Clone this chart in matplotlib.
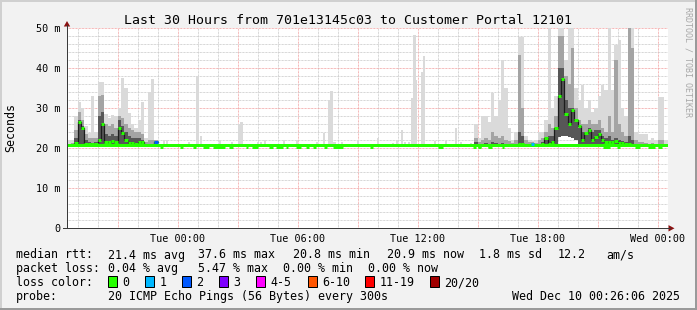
import numpy as np
import matplotlib
matplotlib.use("Agg")
import matplotlib.pyplot as plt
from matplotlib.patches import Rectangle, Polygon
from matplotlib.lines import Line2D

# ------------------------------------------------------------------ data
title = "Last 30 Hours from 701e13145c03 to Customer Portal 12101"
x_range = (-5.53, 24.52)                      # hours relative to Tue 00:00
x_tick_hours = [0, 6, 12, 18, 24]
x_tick_labels = ["Tue 00:00", "Tue 06:00", "Tue 12:00", "Tue 18:00", "Wed 00:00"]
y_ticks = [0, 10, 20, 30, 40, 50]
y_tick_labels = ["0", "10 m", "20 m", "30 m", "40 m", "50 m"]

baseline_median = 20.9      # ms
baseline_min = 20.8         # ms
dip_median = 20.45          # ms, short dips of the median
dip_start = [-0.9, 0.1, 0.75, 1.25, 1.75, 2.55, 3.4, 3.7, 4.55, 4.9, 5.4, 5.9, 6.4, 6.75,
             7.3, 7.75, 9.6, 13.0, 14.75, 15.0, 15.5, 16.2, 21.25, 21.95, 22.85, 23.5, 24.0]
dip_end = [-0.75, 0.25, 0.9, 1.55, 2.35, 2.75, 3.5, 4.0, 4.75, 5.25, 5.5, 6.15, 6.55, 6.9,
           7.45, 8.25, 9.75, 13.25, 14.9, 15.15, 15.7, 16.3, 21.6, 22.1, 23.1, 23.85, 24.2]

# isolated light-grey smoke spikes (max ping)
spike_t = [-0.75, -0.60, 0.50, 0.93, 1.10, 2.05, 2.65, 3.00, 3.12, 3.95, 4.10, 4.30, 5.25,
           5.90, 6.90, 7.25, 7.50, 7.62, 7.78, 8.15, 8.95, 9.40, 9.95, 10.70, 10.90, 11.15,
           11.30, 11.50, 11.65, 11.77, 11.83, 12.15, 12.25, 12.80, 13.35, 13.85, 14.10, 14.60]
spike_top = [22.2, 22.0, 21.6, 38.0, 23.0, 22.0, 21.6, 26.0, 26.6, 21.5, 21.6, 22.2, 22.2,
             22.0, 21.6, 23.8, 32.0, 34.3, 21.5, 21.5, 22.2, 21.2, 22.5, 21.4, 22.0, 24.5,
             21.6, 21.6, 32.6, 48.2, 37.0, 39.1, 43.1, 21.8, 21.8, 25.1, 21.6, 21.4]

# dense smoke samples (10 minute steps)
dense_t = [-5.50, -5.33, -5.17, -5.00, -4.83, -4.67, -4.50, -4.33, -4.17, -4.00, -3.83,
           -3.67, -3.50, -3.33, -3.17, -3.00, -2.83, -2.67, -2.50, -2.33, -2.17, -2.00,
           -1.83, -1.67, -1.50, -1.33, -1.17,
           14.83, 15.00, 15.17, 15.33, 15.50, 15.67, 15.83, 16.00, 16.17, 16.33, 16.50,
           16.67, 16.83, 17.00, 17.17, 17.33, 17.50, 17.67, 17.83,
           18.00, 18.17, 18.33, 18.50, 18.67, 18.83, 19.00, 19.17, 19.33, 19.50, 19.67,
           19.83, 20.00, 20.17, 20.33, 20.50, 20.67, 20.83, 21.00, 21.17, 21.33, 21.50,
           21.67, 21.83, 22.00, 22.17, 22.33, 22.50, 22.67, 22.83, 23.00, 23.17, 23.33,
           23.50, 23.67, 23.83, 24.00, 24.17, 24.33]
dense_top = [22.0, 22.0, 28.0, 31.6, 30.0, 25.5, 23.8, 33.0, 24.0, 36.5, 36.5,
             28.5, 27.5, 28.3, 28.0, 30.0, 37.6, 35.0, 28.8, 26.0, 25.0, 27.0,
             31.6, 22.5, 34.0, 37.2, 22.0,
             26.2, 22.5, 28.2, 28.2, 26.6, 33.7, 28.0, 32.0, 42.0, 35.0, 25.0,
             22.0, 24.0, 47.8, 47.8, 23.0, 22.0, 21.8, 22.0,
             24.0, 24.0, 27.0, 50.0, 30.0, 33.0, 50.0, 50.0, 42.0, 50.0, 50.0,
             35.0, 32.0, 35.7, 30.0, 32.0, 29.0, 30.0, 33.0, 35.7, 34.5, 50.0,
             34.5, 45.7, 47.0, 30.0, 28.0, 50.0, 50.0, 24.0, 23.5, 23.5, 23.5,
             22.0, 22.5, 22.0, 32.8, 32.8, 22.0]
dense_hi = [21.2, 21.3, 24.5, 29.0, 27.0, 23.5, 22.5, 22.5, 22.5, 33.0, 33.3,
            26.0, 25.5, 26.0, 25.0, 28.0, 27.5, 26.0, 25.0, 24.5, 24.0, 24.0,
            23.5, 21.5, 22.0, 22.0, 22.0,
            22.5, 21.5, 22.0, 22.5, 22.0, 24.0, 23.0, 22.5, 23.0, 22.0, 21.8,
            21.3, 22.0, 43.2, 30.0, 22.0, 21.5, 21.5, 21.3,
            22.0, 22.5, 24.0, 26.0, 25.0, 28.0, 48.0, 48.0, 38.0, 36.0, 45.0,
            30.0, 27.0, 26.0, 26.0, 27.0, 26.0, 26.0, 27.0, 25.0, 24.0, 28.0,
            24.0, 42.0, 26.0, 24.0, 23.0, 50.0, 45.0, 22.0, 21.5, 21.5, 21.3,
            21.2, 21.3, 21.2, 22.0, 22.0, 21.2]
dense_core = [21.0, 21.0, 22.5, 27.0, 25.5, 22.0, 21.5, 21.3, 21.5, 28.0, 29.0,
              23.5, 23.0, 23.5, 23.0, 27.0, 25.5, 24.0, 23.0, 22.5, 22.5, 22.5,
              22.0, 21.0, 21.2, 21.2, 21.5,
              21.5, 21.0, 21.2, 21.3, 21.0, 21.5, 21.3, 21.2, 21.3, 21.2, 21.0,
              21.0, 21.2, 24.0, 23.0, 21.2, 21.0, 21.0, 21.0,
              21.2, 21.5, 22.5, 23.0, 23.0, 25.0, 40.0, 40.0, 32.0, 30.0, 30.0,
              27.0, 25.0, 24.0, 24.0, 25.0, 24.0, 24.5, 24.5, 23.0, 22.5, 23.0,
              22.0, 22.5, 22.0, 21.8, 21.5, 23.0, 22.0, 21.0, 21.0, 21.0, 21.0,
              21.0, 21.0, 21.0, 21.2, 21.2, 21.0]
dense_lo = [20.8] * 27 + [20.8] * 19 + \
           [20.8, 20.8, 20.8, 20.8, 20.8, 20.8, 22.8, 23.0, 23.0, 22.8, 22.5,
            22.0, 20.8, 20.8, 20.8, 20.8, 20.8, 20.8, 20.8, 20.8, 20.8, 20.8,
            20.8, 20.8, 20.8, 20.8, 20.8, 20.8, 20.8, 20.8, 20.8, 20.8, 20.8,
            20.8, 20.8, 20.8, 20.8, 20.8, 20.8]
dense_med = [20.9, 20.9, 21.3, 26.6, 25.0, 21.2, 21.0, 21.0, 21.0, 22.0, 26.2,
             21.6, 21.6, 21.9, 21.6, 25.0, 23.8, 22.0, 21.4, 21.4, 21.2, 21.6,
             21.6, 20.9, 20.9, 20.9, 21.5,
             20.9, 20.7, 20.9, 20.9, 20.7, 20.9, 20.9, 20.9, 20.9, 20.9, 20.9,
             20.9, 20.9, 21.0, 21.0, 20.9, 20.9, 21.1, 20.9,
             20.9, 21.0, 22.5, 21.2, 21.5, 25.0, 33.0, 37.4, 28.7, 26.2, 29.7,
             27.0, 25.7, 22.0, 23.8, 24.7, 22.0, 22.8, 23.5, 22.0, 21.5, 21.6,
             21.5, 21.8, 21.4, 21.3, 21.0, 21.0, 20.9, 20.9, 20.9, 20.9, 20.9,
             20.9, 20.9, 20.9, 20.9, 20.9, 20.9]

# samples with packet loss (count of 20)
loss_t = [-1.17, 17.67]
loss_count = [2, 1]

loss_labels = ["0", "1", "2", "3", "4-5", "6-10", "11-19", "20/20"]
loss_colors = ["#26ff00", "#00b8ff", "#0059ff", "#7e00ff", "#ff00ff", "#ff5500", "#ff0000", "#a10000"]

stats_rtt = ["21.4 ms avg", "37.6 ms max", "20.8 ms min", "20.9 ms now", "1.8 ms sd", "12.2", "am/s"]
stats_loss = ["0.04 % avg", "5.47 % max", "0.00 % min", "0.00 % now"]
probe_text = "20 ICMP Echo Pings (56 Bytes) every 300s"
stamp_text = "Wed Dec 10 00:26:06 2025"

# ------------------------------------------------------------------ style
W, H = 697, 310
BG = "#f2f2f2"
MONO = "DejaVu Sans Mono"
STEP = 1 / 6
SPIKE_W = 1 / 8
C_TOP, C_HI, C_CORE = "#dadada", "#a4a4a4", "#575757"
GRID_MIN, GRID_MAJ = "#c8c8c8", "#f2a0a0"
AXIS_C, ARROW_C = "#3a3a3a", "#8b1010"
PX = 72 / 100  # points per pixel

def fxy(x, y):
    return x / W, 1 - y / H

fig = plt.figure(figsize=(W / 100, H / 100), dpi=100, facecolor=BG)

# frame shading
fig.add_artist(Rectangle((0, 0), 2 / W, 1, transform=fig.transFigure, color="#d0d0d0", lw=0))
fig.add_artist(Rectangle((0, 1 - 2 / H), 1, 2 / H, transform=fig.transFigure, color="#d0d0d0", lw=0))
fig.add_artist(Rectangle((1 - 2 / W, 0), 2 / W, 1, transform=fig.transFigure, color="#9a9a9a", lw=0))
fig.add_artist(Rectangle((0, 0), 1, 2 / H, transform=fig.transFigure, color="#9a9a9a", lw=0))

L, R, T, B = 67, 668, 28.3, 228.3
ax = fig.add_axes([L / W, 1 - B / H, (R - L) / W, (B - T) / H])
ax.set_facecolor("white")
ax.set_xlim(*x_range)
ax.set_ylim(0, 50)
for s in ax.spines.values():
    s.set_visible(False)

# grid (1px dotted)
dots = (0, (PX, PX))
hours = np.arange(np.ceil(x_range[0]), x_range[1] + 0.01, 1.0)
for h in hours:
    major = int(round(h)) % 3 == 0
    ax.axvline(h, color=GRID_MAJ if major else GRID_MIN, lw=PX, ls=dots, zorder=1)
for v in range(2, 51, 2):
    ax.axhline(v, color=GRID_MAJ if v % 10 == 0 else GRID_MIN, lw=PX, ls=dots, zorder=1)

# smoke
dense_t_a = np.array(dense_t)
lo = np.array(dense_lo)
ax.bar(dense_t_a, np.array(dense_top) - lo, bottom=lo, width=STEP, align="edge",
       color=C_TOP, lw=0, antialiased=False, zorder=2)
ax.bar(dense_t_a, np.array(dense_hi) - lo, bottom=lo, width=STEP, align="edge",
       color=C_HI, lw=0, antialiased=False, zorder=2)
ax.bar(dense_t_a, np.array(dense_core) - lo, bottom=lo, width=STEP, align="edge",
       color=C_CORE, lw=0, antialiased=False, zorder=2)
ax.bar(spike_t, np.array(spike_top) - baseline_min, bottom=baseline_min, width=SPIKE_W,
       align="edge", color=C_TOP, lw=0, antialiased=False, zorder=2)

# median connectors (break between separate runs)
med = np.array(dense_med)
breaks = np.where(np.diff(dense_t_a) > STEP * 1.5)[0] + 1
for seg_t, seg_m in zip(np.split(dense_t_a, breaks), np.split(med, breaks)):
    ax.step(np.append(seg_t, seg_t[-1] + STEP), np.append(seg_m, seg_m[-1]),
            where="post", color="#1c1c1c", lw=0.9, zorder=3)

# green median line
green = loss_colors[0]
ax.hlines(baseline_median, x_range[0], x_range[1], color=green, lw=3 * PX, zorder=4)
ax.hlines([dip_median] * len(dip_start), dip_start, dip_end, color=green, lw=3 * PX, zorder=4)
ax.hlines(med, dense_t_a, dense_t_a + STEP, color=green, lw=3 * PX, zorder=5)

def loss_color(n):
    if n <= 3:
        return loss_colors[n]
    if n <= 5:
        return loss_colors[4]
    if n <= 10:
        return loss_colors[5]
    if n <= 19:
        return loss_colors[6]
    return loss_colors[7]

for t, n in zip(loss_t, loss_count):
    i = int(np.argmin(np.abs(dense_t_a - t)))
    ax.hlines(med[i], t, t + STEP, color=loss_color(n), lw=3 * PX, zorder=6)

# ticks
ax.set_xticks(x_tick_hours, x_tick_labels)
ax.set_yticks(y_ticks, y_tick_labels)
ax.tick_params(axis="both", length=0, labelsize=7.3, colors="black")
ax.tick_params(axis="x", pad=3.8)
ax.tick_params(axis="y", pad=5.0)
for lab in ax.get_xticklabels() + ax.get_yticklabels():
    lab.set_fontfamily(MONO)

# axes lines + arrows (figure pixel space)
fig.add_artist(Line2D([L / W, L / W], [1 - B / H, 1 - 25 / H], transform=fig.transFigure,
                      color=AXIS_C, lw=PX))
fig.add_artist(Line2D([(L - 4) / W, 670 / W], [1 - B / H, 1 - B / H], transform=fig.transFigure,
                      color=AXIS_C, lw=PX))
fig.add_artist(Polygon([fxy(L - 3.2, 26.5), fxy(L + 3.2, 26.5), fxy(L, 21.0)], closed=True,
                       transform=fig.transFigure, color=ARROW_C, lw=0))
fig.add_artist(Polygon([fxy(668.5, B - 3.2), fxy(668.5, B + 3.2), fxy(674.5, B)], closed=True,
                       transform=fig.transFigure, color=ARROW_C, lw=0))

# texts
def ftext(x, y, s, **kw):
    kw.setdefault("family", MONO)
    kw.setdefault("fontsize", 8.4)
    kw.setdefault("va", "baseline")
    kw.setdefault("ha", "left")
    fig.text(x / W, 1 - y / H, s, **kw)

ftext(348, 24, title, fontsize=9.5, ha="center")
ftext(10.8, 127.5, "Seconds", rotation=90, ha="center", va="center")
ftext(688, 62, "RRDTOOL / TOBI OETIKER", rotation=-90, ha="center", va="center",
      fontsize=6.0, color="#a8a8a8")

rtt_x = [107.6, 198.0, 293.3, 386.7, 479.0, 557.8, 606.7]
ftext(15.6, 258.5, "median rtt:")
for x, s in zip(rtt_x, stats_rtt):
    ftext(x, 258.5, s)
loss_x = [107.6, 198.0, 283.0, 368.0]
ftext(15.6, 272.2, "packet loss:")
for x, s in zip(loss_x, stats_loss):
    ftext(x, 272.2, s)
ftext(15.6, 286.0, "loss color:")
box_x = [108.0, 145.3, 182.2, 219.1, 256.4, 307.6, 365.3, 430.2]
for x, c, s in zip(box_x, loss_colors, loss_labels):
    fig.add_artist(Rectangle(fxy(x, 287.0), 9 / W, 11 / H, transform=fig.transFigure,
                             facecolor=c, edgecolor="black", lw=PX))
    ftext(x + 14.2, 286.0, s)
ftext(15.6, 299.8, "probe:")
ftext(107.6, 299.8, probe_text)
ftext(680.5, 299.8, stamp_text, ha="right")

fig.savefig("out.png", dpi=100, facecolor=BG)
